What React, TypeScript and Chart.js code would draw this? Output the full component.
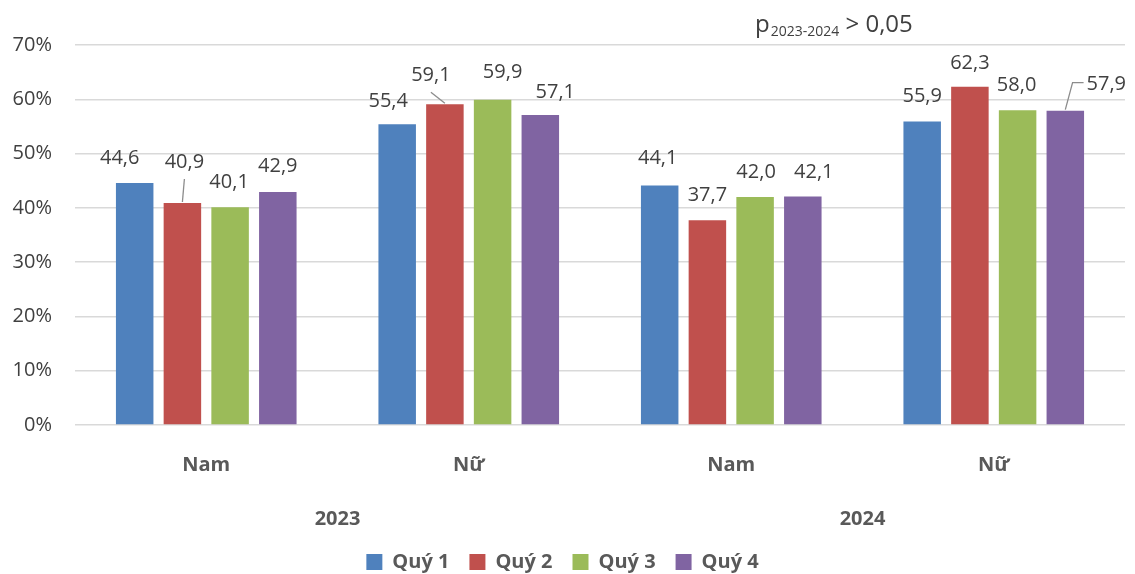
import React, { useEffect, useRef } from "react";
import { Chart, registerables } from "chart.js";

Chart.register(...registerables);

const categories = ["Nam", "Nữ", "Nam", "Nữ"];
const years = ["2023", "2024"];
const seriesNames = ["Quý 1", "Quý 2", "Quý 3", "Quý 4"];
const q1 = [44.6, 55.4, 44.1, 55.9];
const q2 = [40.9, 59.1, 37.7, 62.3];
const q3 = [40.1, 59.9, 42.0, 58.0];
const q4 = [42.9, 57.1, 42.1, 57.9];
const yMin = 0;
const yMax = 70;
const yStep = 10;
const colors = ["#4F81BD", "#C0504D", "#9BBB59", "#8064A2"];
const annotationMain = "p";
const annotationSub = "2023-2024";
const annotationTail = " > 0,05";

// presentational nudges for data labels: [dx, dy, leader]
const labelNudges: [number, number, string][][] = [
  [[-15, 0, ""], [-9, 2, ""], [-2, -2, ""], [0, 0, ""]],
  [[2, -16, "down"], [-14, -4, "down"], [0, 0, ""], [0, 1, ""]],
  [[-1, 0, ""], [10, -3, ""], [1, 0, ""], [-1, 0, ""]],
  [[0, -1, ""], [15, 2, ""], [11, 1, ""], [41, -1, "left"]],
];

const FONT = "'Open Sans', 'Noto Sans', sans-serif";
const TEXT = "#404040";

const dataLabelPlugin = {
  id: "dataLabels",
  afterDatasetsDraw(chart: any) {
    const ctx = chart.ctx;
    ctx.save();
    ctx.font = `20px ${FONT}`;
    ctx.fillStyle = TEXT;
    ctx.textAlign = "center";
    ctx.textBaseline = "middle";
    chart.data.datasets.forEach((ds: any, i: number) => {
      const meta = chart.getDatasetMeta(i);
      meta.data.forEach((el: any, j: number) => {
        const v = ds.data[j] as number;
        const text = v.toFixed(1).replace(".", ",");
        const [dx, dy, leader] = labelNudges[i][j];
        const lx = el.x + dx;
        const ly = el.y - 25 + dy;
        ctx.fillText(text, lx, ly);
        if (leader) {
          ctx.strokeStyle = "#8C8C8C";
          ctx.lineWidth = 1.3;
          ctx.beginPath();
          if (leader === "down") {
            ctx.moveTo(lx, ly + 17);
            ctx.lineTo(el.x, el.y - 1);
          } else {
            const w = ctx.measureText(text).width;
            ctx.moveTo(el.x, el.y - 1);
            ctx.lineTo(lx - w / 2 - 14, ly - 2);
            ctx.lineTo(lx - w / 2 - 3, ly - 2);
          }
          ctx.stroke();
        }
      });
    });
    ctx.restore();
  },
};

const annotationPlugin = {
  id: "pAnnotation",
  afterDraw(chart: any) {
    const ctx = chart.ctx;
    ctx.save();
    ctx.fillStyle = TEXT;
    ctx.textAlign = "left";
    ctx.textBaseline = "alphabetic";
    let x = 755;
    ctx.font = `24px ${FONT}`;
    ctx.fillText(annotationMain, x, 32);
    x += ctx.measureText(annotationMain).width + 1;
    ctx.font = `14px ${FONT}`;
    ctx.fillText(annotationSub, x, 36);
    x += ctx.measureText(annotationSub).width;
    ctx.font = `24px ${FONT}`;
    ctx.fillText(annotationTail, x, 32);
    ctx.restore();
  },
};

export default function App() {
  const ref = useRef<HTMLCanvasElement | null>(null);
  useEffect(() => {
    document.body.style.margin = "0";
    const canvas = ref.current!;
    const series = [q1, q2, q3, q4];
    const chart = new Chart(canvas, {
      type: "bar",
      data: {
        labels: categories,
        datasets: series.map((d, i) => ({
          label: seriesNames[i],
          data: d,
          backgroundColor: colors[i],
          borderWidth: 0,
          xAxisID: "x",
          yAxisID: "y",
          categoryPercentage: 0.727,
          barPercentage: 0.786,
        })),
      },
      options: {
        responsive: false,
        animation: false,
        layout: { padding: { top: 45, right: 10, left: 0, bottom: -8 } },
        scales: {
          x: {
            type: "category",
            position: "bottom",
            grid: { display: false, drawTicks: false },
            border: { display: false },
            ticks: {
              color: "#595959",
              font: { family: FONT, size: 20, weight: "bold" },
              padding: 28,
              maxRotation: 0,
            },
            afterFit: (s: any) => {
              s.height = 65;
            },
          },
          x2: {
            type: "category",
            position: "bottom",
            labels: years,
            offset: true,
            grid: { display: false, drawTicks: false },
            border: { display: false },
            ticks: {
              color: "#595959",
              font: { family: FONT, size: 20, weight: "bold" },
              padding: 17,
              maxRotation: 0,
            },
            afterFit: (s: any) => {
              s.height = 42;
            },
          },
          y: {
            min: yMin,
            max: yMax,
            grid: { color: "#D9D9D9", drawTicks: false, lineWidth: 1.5 },
            border: { display: false },
            ticks: {
              stepSize: yStep,
              color: TEXT,
              font: { family: FONT, size: 20 },
              padding: 23,
              callback: (v: any) => `${v}%`,
            },
            afterFit: (s: any) => {
              s.width = 75;
            },
          },
        },
        plugins: {
          legend: {
            position: "bottom",
            labels: {
              boxWidth: 16,
              boxHeight: 16,
              padding: 20,
              color: "#595959",
              font: { family: FONT, size: 20, weight: "bold" },
            },
          },
          tooltip: { enabled: false },
        },
      } as any,
      plugins: [dataLabelPlugin, annotationPlugin],
    });
    return () => chart.destroy();
  }, []);
  return (
    <canvas ref={ref} width={1135} height={574} style={{ display: "block" }} />
  );
}
